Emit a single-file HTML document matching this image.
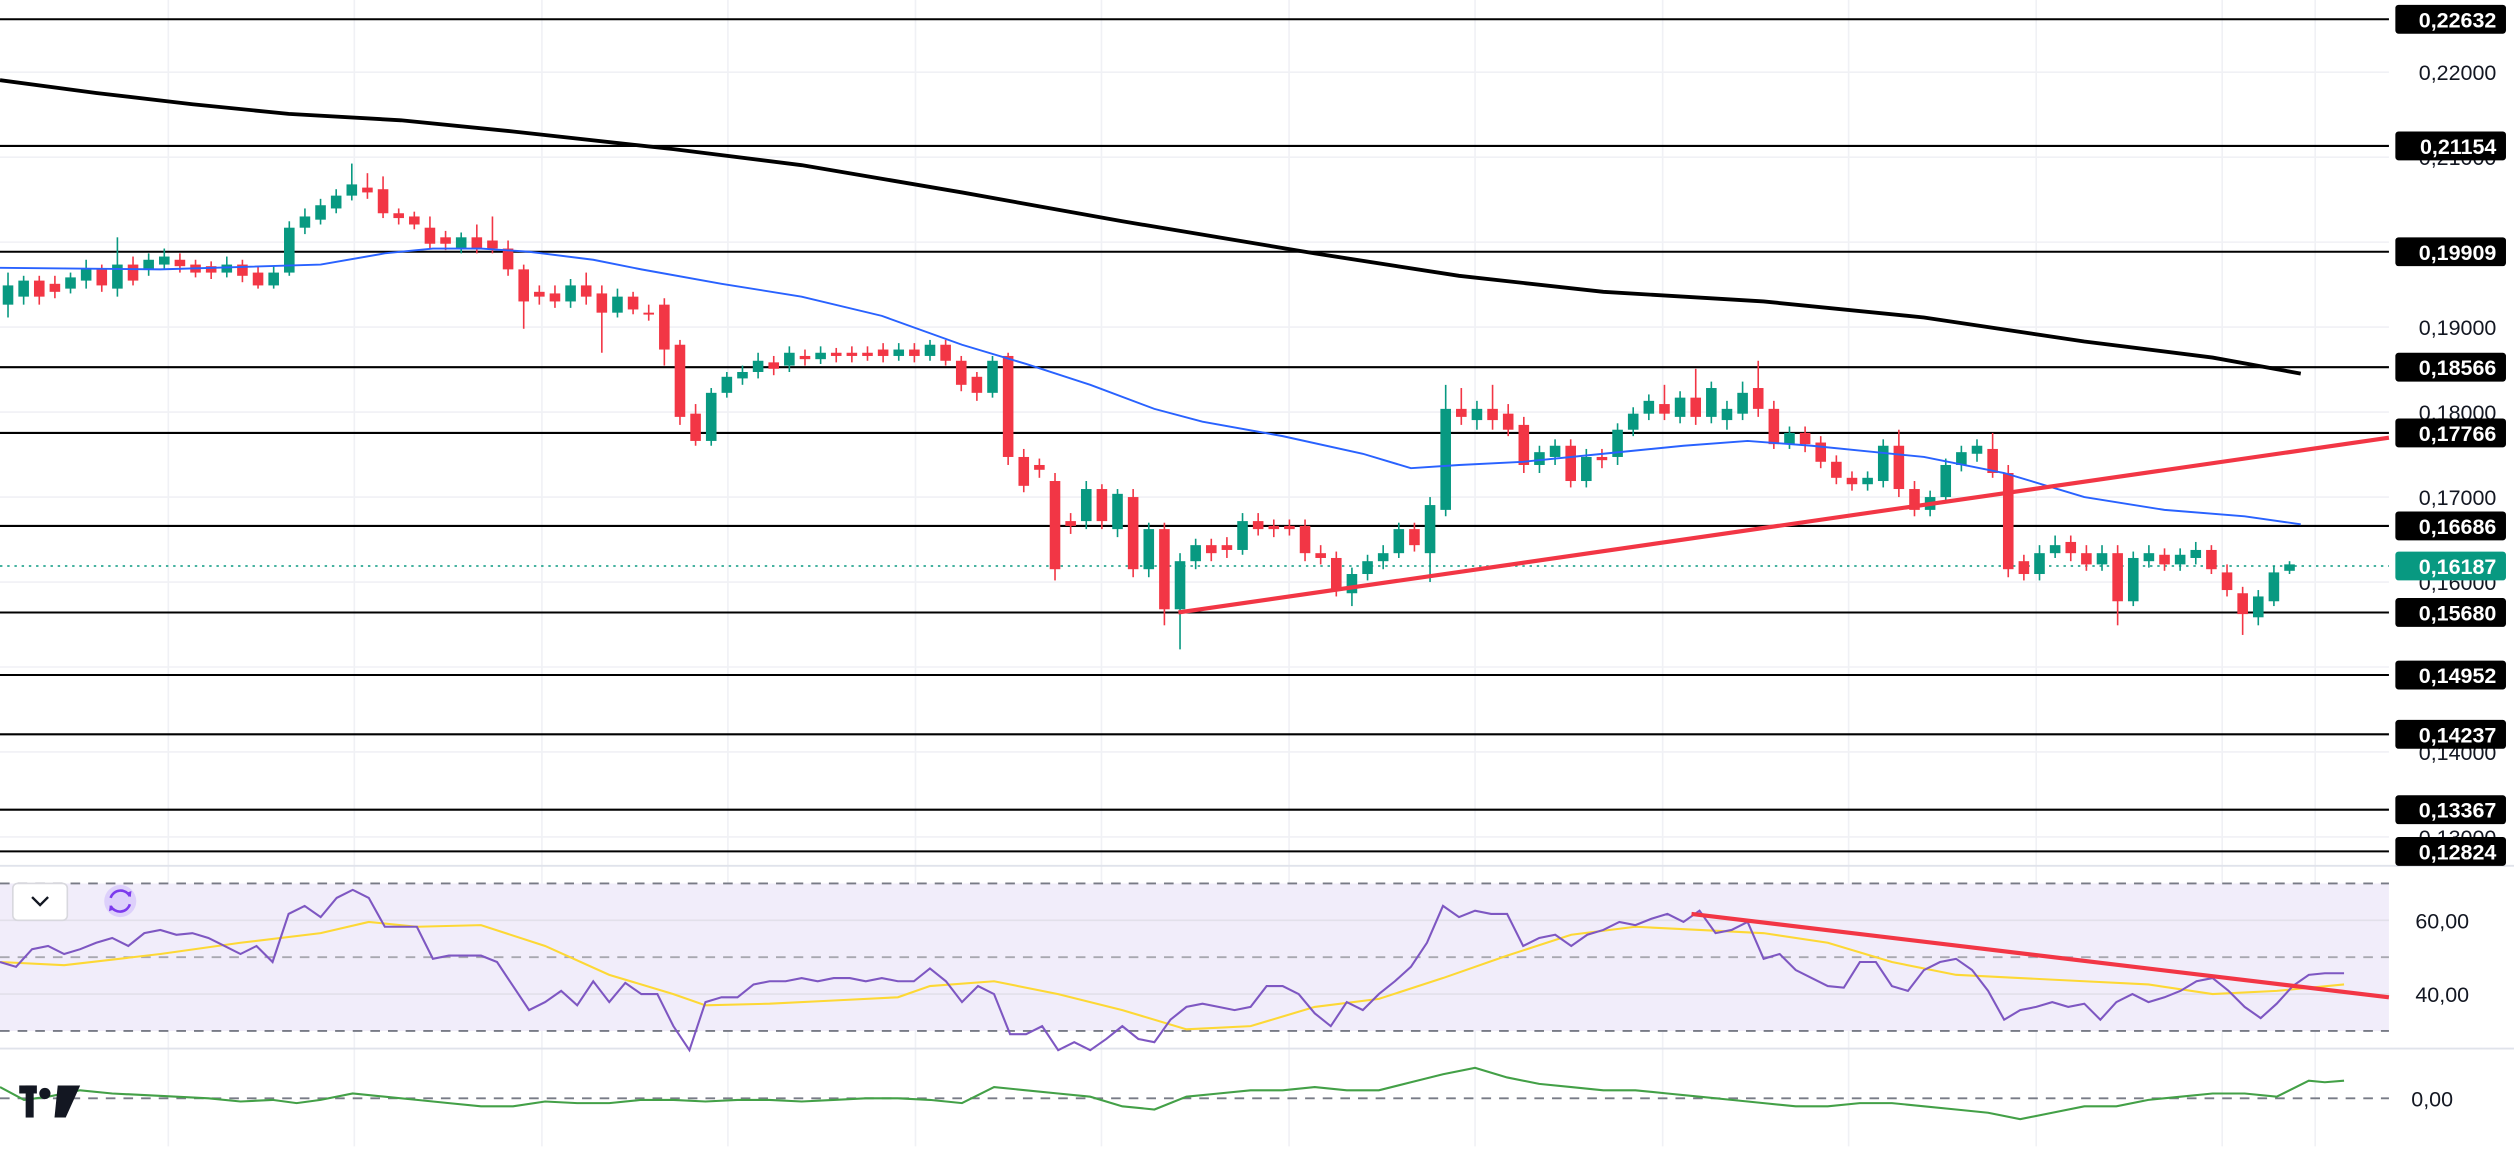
<!DOCTYPE html>
<html><head><meta charset="utf-8"><style>
html,body{margin:0;padding:0;background:#fff;width:2514px;height:1157px;overflow:hidden}
svg{display:block}
text{font-family:"Liberation Sans",sans-serif}
</style></head><body>
<svg id="s" width="2514" height="1157" viewBox="0 0 1568 721.6" xmlns="http://www.w3.org/2000/svg">
<rect width="1568" height="722" fill="#fff"/>
<g stroke="#f0f1f5" stroke-width="1">
<line x1="105" y1="0" x2="105" y2="715"/><line x1="221" y1="0" x2="221" y2="715"/><line x1="338" y1="0" x2="338" y2="715"/><line x1="454" y1="0" x2="454" y2="715"/><line x1="571" y1="0" x2="571" y2="715"/><line x1="687" y1="0" x2="687" y2="715"/><line x1="804" y1="0" x2="804" y2="715"/><line x1="920" y1="0" x2="920" y2="715"/><line x1="1037" y1="0" x2="1037" y2="715"/><line x1="1153" y1="0" x2="1153" y2="715"/><line x1="1270" y1="0" x2="1270" y2="715"/><line x1="1386" y1="0" x2="1386" y2="715"/><line x1="1444" y1="0" x2="1444" y2="715"/>
<line x1="0" y1="45" x2="1490" y2="45"/><line x1="0" y1="98" x2="1490" y2="98"/><line x1="0" y1="151" x2="1490" y2="151"/><line x1="0" y1="204" x2="1490" y2="204"/><line x1="0" y1="257" x2="1490" y2="257"/><line x1="0" y1="310" x2="1490" y2="310"/><line x1="0" y1="363" x2="1490" y2="363"/><line x1="0" y1="416" x2="1490" y2="416"/><line x1="0" y1="469" x2="1490" y2="469"/><line x1="0" y1="522" x2="1490" y2="522"/>
</g>
<!-- RSI pane -->
<rect x="0" y="551" width="1490" height="92" fill="#f1edfa"/>
<line x1="0" y1="540" x2="1568" y2="540" stroke="#e0e3eb" stroke-width="1.2"/>
<line x1="0" y1="654" x2="1568" y2="654" stroke="#e0e3eb" stroke-width="1.2"/>
<line x1="0" y1="574" x2="1490" y2="574" stroke="#e2e0ea" stroke-width="1"/>
<line x1="0" y1="620" x2="1490" y2="620" stroke="#e2e0ea" stroke-width="1"/>
<g stroke-dasharray="6,5" stroke-width="1.2" fill="none">
<line x1="0" y1="551" x2="1490" y2="551" stroke="#787b86"/>
<line x1="0" y1="597" x2="1490" y2="597" stroke="#a8a8b0"/>
<line x1="0" y1="643" x2="1490" y2="643" stroke="#787b86"/>
<line x1="0" y1="685" x2="1490" y2="685" stroke="#787b86"/>
</g>
<!-- level lines -->
<g stroke="#000" stroke-width="1.3">
<line x1="0" y1="12" x2="1490" y2="12"/><line x1="0" y1="91" x2="1490" y2="91"/><line x1="0" y1="157" x2="1490" y2="157"/><line x1="0" y1="229" x2="1490" y2="229"/><line x1="0" y1="270" x2="1490" y2="270"/><line x1="0" y1="328" x2="1490" y2="328"/><line x1="0" y1="382" x2="1490" y2="382"/><line x1="0" y1="421" x2="1490" y2="421"/><line x1="0" y1="458" x2="1490" y2="458"/><line x1="0" y1="505" x2="1490" y2="505"/><line x1="0" y1="531" x2="1490" y2="531"/>
</g>
<line x1="0" y1="353" x2="1490" y2="353" stroke="#089981" stroke-width="1" stroke-dasharray="1.5,3"/>
<g id="candles"></g>
<polyline fill="none" stroke="#000" stroke-width="2.4" points="0,50 60,58 120,65 180,71 250,75 320,82 420,93 500,103 600,120 700,138 820,158 910,172 1000,182 1100,188 1200,198 1300,213 1380,223 1435,233"/>
<polyline fill="none" stroke="#2962ff" stroke-width="1.2" points="0,167 100,168 200,165 240,158 270,155 300,155 330,157 370,162 400,168 450,177 500,185 550,197 600,215 640,227 680,240 720,255 750,263 800,272 850,283 880,292 910,290 950,288 1000,283 1050,278 1090,275 1130,278 1170,282 1200,285 1250,295 1300,310 1350,318 1400,322 1435,327"/>
<line x1="735" y1="382" x2="1490" y2="273" stroke="#f23645" stroke-width="2.6"/>
<!-- RSI -->
<polyline fill="none" stroke="#fdd835" stroke-width="1.3" points="0,600 40,602 100,595 150,588 200,582 230,575 260,578 300,577 340,590 380,608 420,620 440,627 480,626 520,624 560,622 580,615 620,612 660,620 700,630 740,642 780,640 820,628 860,623 900,610 940,596 980,583 1020,578 1060,580 1100,582 1140,588 1180,600 1220,608 1260,610 1300,612 1340,614 1380,620 1420,618 1462,614"/>
<polyline fill="none" stroke="#7e57c2" stroke-width="1.3" points="0,600 10,603 20,592 30,590 40,595 50,592 60,588 70,585 80,590 90,582 100,580 110,583 120,582 130,585 140,590 150,595 160,590 170,600 180,570 190,565 200,572 210,560 220,555 230,560 240,578 250,578 260,578 270,598 280,596 290,596 300,596 310,600 320,615 330,630 340,625 350,618 360,627 370,612 380,625 390,613 400,620 410,620 420,640 430,655 440,625 450,622 460,622 470,614 480,612 490,612 500,610 510,612 520,610 530,610 540,612 550,610 560,612 570,612 580,604 590,612 600,625 610,615 620,620 630,645 640,645 650,640 660,655 670,650 680,655 690,648 700,640 710,648 720,650 730,636 740,628 750,626 760,628 770,630 780,628 790,615 800,615 810,620 820,632 830,640 840,625 850,630 860,620 870,612 880,603 890,588 900,565 910,572 920,568 930,570 940,570 950,590 960,585 970,583 980,590 990,583 1000,580 1010,575 1020,577 1030,573 1040,570 1050,575 1060,568 1070,582 1080,580 1090,575 1100,598 1110,595 1120,605 1130,610 1140,615 1150,616 1160,600 1170,600 1180,615 1190,618 1200,605 1210,600 1220,598 1230,605 1240,618 1250,636 1260,630 1270,628 1280,625 1290,628 1300,626 1310,636 1320,625 1330,620 1340,625 1350,622 1360,618 1370,612 1380,610 1390,618 1400,628 1410,635 1420,626 1430,615 1440,608 1450,607 1462,607"/>
<line x1="1055" y1="570" x2="1490" y2="622" stroke="#f23645" stroke-width="2.6"/>
<polyline fill="none" stroke="#43a047" stroke-width="1.3" points="0,678 15,686 30,684 50,680 70,682 90,683 110,684 130,685 150,687 170,686 185,688 200,686 220,682 240,684 260,686 280,688 300,690 320,690 340,687 360,688 380,688 400,686 420,686 440,687 460,686 480,686 500,687 520,686 540,685 560,685 580,686 600,688 620,678 640,680 660,682 680,684 700,690 720,692 740,684 760,682 780,680 800,680 820,678 840,680 860,680 880,675 900,670 920,666 940,672 960,676 980,678 1000,680 1020,680 1040,682 1060,684 1080,686 1100,688 1120,690 1140,690 1160,688 1180,688 1200,690 1220,692 1240,694 1260,698 1280,694 1300,690 1320,690 1340,686 1360,684 1380,682 1400,682 1420,684 1440,674 1450,675 1462,674"/>
<!-- widgets -->
<rect x="8" y="551" width="34" height="23" rx="3" fill="#fff" stroke="#d8d8de"/>
<polyline points="20,559.5 25,564.5 30,559.5" fill="none" stroke="#131722" stroke-width="1.5"/>
<circle cx="75" cy="562" r="10" fill="#ddd0fb"/>
<path d="M69,560 A6.5,6.5 0 0 1 81,559 M81,564 A6.5,6.5 0 0 1 69,565" fill="none" stroke="#7c3aed" stroke-width="1.6"/>
<path d="M78.5,557 l3,2.5 l0.5,-3.8z M71.5,567 l-3,-2.5 l-0.5,3.8z" fill="#7c3aed"/>
<g fill="#131722"><rect x="12" y="677" width="11" height="5"/><rect x="16" y="677" width="5" height="20"/><circle cx="28" cy="682" r="3.5"/><polygon points="36,677 50,677 41,697 34,697"/></g>
<!-- axis labels -->
<g font-size="13.4" fill="#131722" text-anchor="end">
<text x="1557" y="50">0,22000</text><text x="1557" y="103">0,21000</text><text x="1557" y="209">0,19000</text><text x="1557" y="262">0,18000</text><text x="1557" y="315">0,17000</text><text x="1557" y="368">0,16000</text><text x="1557" y="474">0,14000</text><text x="1557" y="527">0,13000</text>
<text x="1540" y="579">60,00</text><text x="1540" y="625">40,00</text><text x="1530" y="690">0,00</text>
</g>
<g id="labels" font-size="13.4" font-weight="bold" fill="#fff" text-anchor="end"></g>
</svg>
<script>
var ns="http://www.w3.org/2000/svg";
var C=[[190,178,170,198],[185,175,172,190],[175,185,172,190],[177,182,172,186],[180,173,170,183],[175,168,162,180],[168,178,165,182],[180,165,148,185],[165,175,160,178],[168,162,158,172],[165,160,155,168],[162,166,158,170],[165,170,162,173],[166,170,163,174],[170,165,160,173],[165,172,162,176],[170,178,166,180],[178,170,166,180],[170,142,138,172],[142,135,130,146],[137,128,124,140],[130,122,118,133],[122,115,102,125],[117,120,108,124],[118,133,110,136],[133,136,130,140],[135,140,132,143],[142,152,135,155],[148,152,144,156],[155,148,145,158],[148,155,140,158],[150,155,135,158],[155,168,150,172],[168,188,165,205],[182,185,178,190],[183,188,178,192],[188,178,174,192],[178,185,170,190],[183,195,178,220],[195,185,180,198],[185,193,182,196],[195,196,190,200],[190,218,186,228],[215,260,212,265],[258,275,252,278],[275,245,242,278],[245,235,232,248],[236,232,228,240],[232,225,220,236],[226,230,222,234],[228,220,216,232],[222,224,218,228],[224,220,216,227],[220,222,217,226],[220,222,216,226],[220,222,216,225],[218,222,214,226],[222,218,214,225],[218,222,214,226],[222,215,212,225],[215,225,212,228],[225,240,222,244],[235,245,232,250],[245,225,222,248],[222,285,220,290],[285,303,280,307],[290,293,286,298],[300,355,295,362],[325,328,320,333],[325,305,300,330],[305,325,302,330],[330,308,305,335],[310,355,305,360],[355,330,326,360],[330,380,326,390],[380,350,345,405],[350,340,336,355],[340,345,336,350],[340,343,335,348],[343,325,320,346],[325,330,320,334],[328,330,324,335],[328,330,324,334],[328,345,324,350],[345,348,340,352],[348,368,344,372],[370,358,354,378],[358,350,346,362],[350,345,340,355],[345,330,326,348],[330,340,326,344],[345,315,310,363],[318,255,240,322],[255,260,242,265],[262,255,250,268],[255,262,240,268],[258,268,252,272],[265,290,260,295],[290,282,278,295],[285,278,274,290],[278,300,274,304],[300,285,280,304],[285,287,280,292],[285,268,264,290],[268,258,254,272],[258,250,246,262],[252,258,240,262],[260,248,244,264],[248,260,230,265],[260,242,238,264],[262,255,250,268],[258,245,238,262],[242,255,225,260],[255,277,250,280],[277,270,266,280],[270,277,266,282],[276,288,272,292],[288,298,284,302],[298,302,294,306],[302,298,294,306],[300,278,274,304],[278,305,268,310],[305,318,300,322],[318,310,306,322],[310,290,286,314],[290,282,278,294],[283,278,274,288],[280,295,270,298],[295,355,290,360],[350,358,346,362],[358,345,340,362],[345,340,334,348],[338,345,334,350],[345,352,340,356],[352,345,340,356],[345,375,340,390],[375,348,344,378],[350,345,340,354],[346,352,342,356],[352,346,342,356],[348,343,338,352],[343,355,340,358],[357,368,352,372],[370,383,366,396],[385,372,368,390],[375,357,353,378],[356,352,350,358]];
var g=document.getElementById("candles");
for(var i=0;i<C.length;i++){var x=5+i*(1428-5)/(C.length-1),c=C[i],up=c[1]<c[0],col=up?"#089981":"#f23645";
var l=document.createElementNS(ns,"line");l.setAttribute("x1",x);l.setAttribute("x2",x);l.setAttribute("y1",c[2]);l.setAttribute("y2",c[3]);l.setAttribute("stroke",col);l.setAttribute("stroke-width","1");g.appendChild(l);
var r=document.createElementNS(ns,"rect");var t=Math.min(c[0],c[1]),h=Math.max(1.2,Math.abs(c[1]-c[0]));r.setAttribute("x",x-3.3);r.setAttribute("y",t);r.setAttribute("width",6.6);r.setAttribute("height",h);r.setAttribute("fill",col);g.appendChild(r);}
var L=[["0,22632",12,"#000"],["0,21154",91,"#000"],["0,19909",157,"#000"],["0,18566",229,"#000"],["0,17766",270,"#000"],["0,16686",328,"#000"],["0,16187",353,"#089981"],["0,15680",382,"#000"],["0,14952",421,"#000"],["0,14237",458,"#000"],["0,13367",505,"#000"],["0,12824",531,"#000"]];
var lg=document.getElementById("labels");
L.forEach(function(a){var r=document.createElementNS(ns,"rect");r.setAttribute("x",1494);r.setAttribute("y",a[1]-9);r.setAttribute("width",69);r.setAttribute("height",18);r.setAttribute("rx",2);r.setAttribute("fill",a[2]);lg.appendChild(r);
var t=document.createElementNS(ns,"text");t.setAttribute("x",1557);t.setAttribute("y",a[1]+5);t.textContent=a[0];lg.appendChild(t);});
</script>
</body></html>
